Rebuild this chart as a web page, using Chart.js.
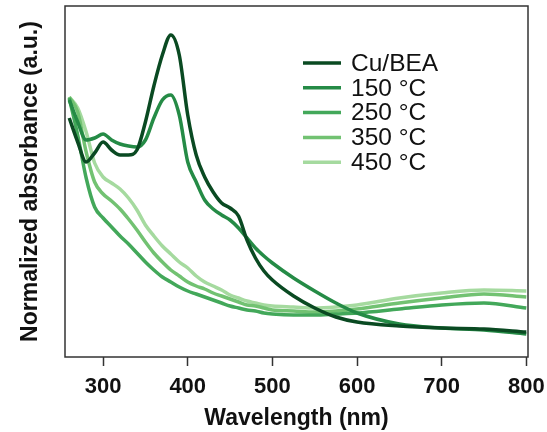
<!DOCTYPE html>
<html>
<head>
<meta charset="utf-8">
<script src="https://cdn.jsdelivr.net/npm/chart.js@4"></script>
<style>
    html, body { margin: 0; padding: 0; background: #fff; }
    #wrap { width: 547px; height: 432px; }
</style>
</head>
<body>
<div id="wrap"><canvas id="uvChart" width="547" height="432"></canvas></div>
<script>
// Wavelength grid (nm) and spectra (arbitrary units)
const wavelengths = [260, 270, 280, 290, 300, 310, 320, 330, 340, 350, 360, 370, 380, 390, 400, 410, 420, 430, 440, 450, 460, 470, 480, 490, 500, 525, 550, 575, 600, 650, 700, 750, 800];
const cuBea  = [239, 215, 195, 204, 215, 207, 202, 202, 207, 235, 271, 302, 322, 302, 242, 202, 180, 165, 154, 149, 141, 117, 99, 86, 77, 61, 49, 40, 35, 31, 29, 28, 25];
const t150   = [257, 235, 217, 219, 223, 217, 213, 211, 210, 217, 239, 257, 262, 242, 195, 175, 157, 148, 142, 137, 129, 119, 109, 101, 94, 79, 66, 54, 44, 33, 29, 27, 23];
const t250   = [259, 222, 179, 150, 139, 130, 121, 113, 104, 95, 87, 80, 75, 70, 66, 63, 60, 57, 54, 51, 49, 47, 46, 44, 43, 42, 42, 43, 44, 48, 52, 54, 49];
const t350   = [260, 245, 205, 175, 163, 156, 148, 138, 127, 115, 104, 95, 87, 81, 75, 71, 68, 64, 61, 58, 55, 52, 51, 49, 47, 46, 45, 46, 48, 54, 59, 63, 60];
const t450   = [260, 249, 225, 194, 180, 174, 168, 159, 147, 132, 121, 111, 103, 95, 89, 81, 75, 71, 67, 62, 59, 56, 54, 52, 51, 50, 49, 50, 52, 59, 64, 67, 66];
const seriesLabels = ['Cu/BEA', '150 °C', '250 °C', '350 °C', '450 °C'];
const seriesColors = ['#0a4a22', '#258b46', '#43a85a', '#72c272', '#a5da9f'];
const xTicks = [300, 400, 500, 600, 700, 800];

const FONT = '"Liberation Sans", Arial, Helvetica, sans-serif';

function toPoints(values) {
    return values.map((v, i) => ({ x: wavelengths[i], y: v }));
}

// Frame around the plot area
const frameBox = {
    id: 'frameBox',
    afterDatasetsDraw(chart) {
        const a = chart.chartArea;
        const ctx = chart.ctx;
        ctx.save();
        ctx.strokeStyle = '#333';
        ctx.lineWidth = 1.5;
        ctx.strokeRect(a.left, a.top, a.right - a.left, a.bottom - a.top);
        ctx.restore();
    }
};

// Legend inside the plot, upper right
const insideLegend = {
    id: 'insideLegend',
    afterDraw(chart) {
        const a = chart.chartArea;
        const ctx = chart.ctx;
        ctx.save();
        ctx.font = '24.5px ' + FONT;
        ctx.textBaseline = 'middle';
        ctx.fillStyle = '#111';
        chart.data.datasets.forEach(function(ds, i) {
            const y = a.top + 57 + i * 24.8;
            ctx.strokeStyle = ds.borderColor;
            ctx.lineWidth = 3.5;
            ctx.beginPath();
            ctx.moveTo(a.left + 238, y);
            ctx.lineTo(a.left + 276, y);
            ctx.stroke();
            ctx.fillText(ds.label, a.left + 286, y + 1);
        });
        ctx.restore();
    }
};

const allSeries = [cuBea, t150, t250, t350, t450];

new Chart(document.getElementById('uvChart').getContext('2d'), {
    type: 'line',
    data: {
        datasets: allSeries.map(function(vals, i) {
            return {
                label: seriesLabels[i],
                data: toPoints(vals),
                borderColor: seriesColors[i],
                borderWidth: 3.5,
                pointRadius: 0,
                fill: false,
                cubicInterpolationMode: 'monotone'
            };
        })
    },
    options: {
        responsive: false,
        animation: false,
        layout: { padding: { top: 6, right: 19, left: 0, bottom: 0 } },
        plugins: {
            legend: { display: false },
            tooltip: { enabled: false }
        },
        scales: {
            x: {
                type: 'linear',
                min: 255,
                max: 802,
                afterBuildTicks: function(scale) {
                    scale.ticks = xTicks.map(v => ({ value: v }));
                },
                afterFit: function(scale) {
                    scale.height = 75;
                    scale.paddingLeft = 0;
                    scale.paddingRight = 0;
                },
                border: { display: false },
                grid: {
                    drawOnChartArea: false,
                    drawTicks: true,
                    tickLength: 9,
                    tickWidth: 1.5,
                    tickColor: '#333'
                },
                ticks: {
                    padding: 8,
                    color: '#111',
                    font: { family: FONT, size: 22, weight: 'bold' }
                },
                title: {
                    display: true,
                    text: 'Wavelength (nm)',
                    color: '#111',
                    padding: { top: 0, bottom: 2 },
                    font: { family: FONT, size: 23, weight: 'bold', lineHeight: 1 }
                }
            },
            y: {
                min: 0,
                max: 351,
                afterFit: function(scale) { scale.width = 65; },
                border: { display: false },
                grid: { display: false },
                ticks: { display: false },
                title: {
                    display: true,
                    text: 'Normalized absorbance (a.u.)',
                    color: '#111',
                    padding: { top: 19, bottom: 0 },
                    font: { family: FONT, size: 23, weight: 'bold', lineHeight: 1 }
                }
            }
        }
    },
    plugins: [frameBox, insideLegend]
});
</script>
</body>
</html>
